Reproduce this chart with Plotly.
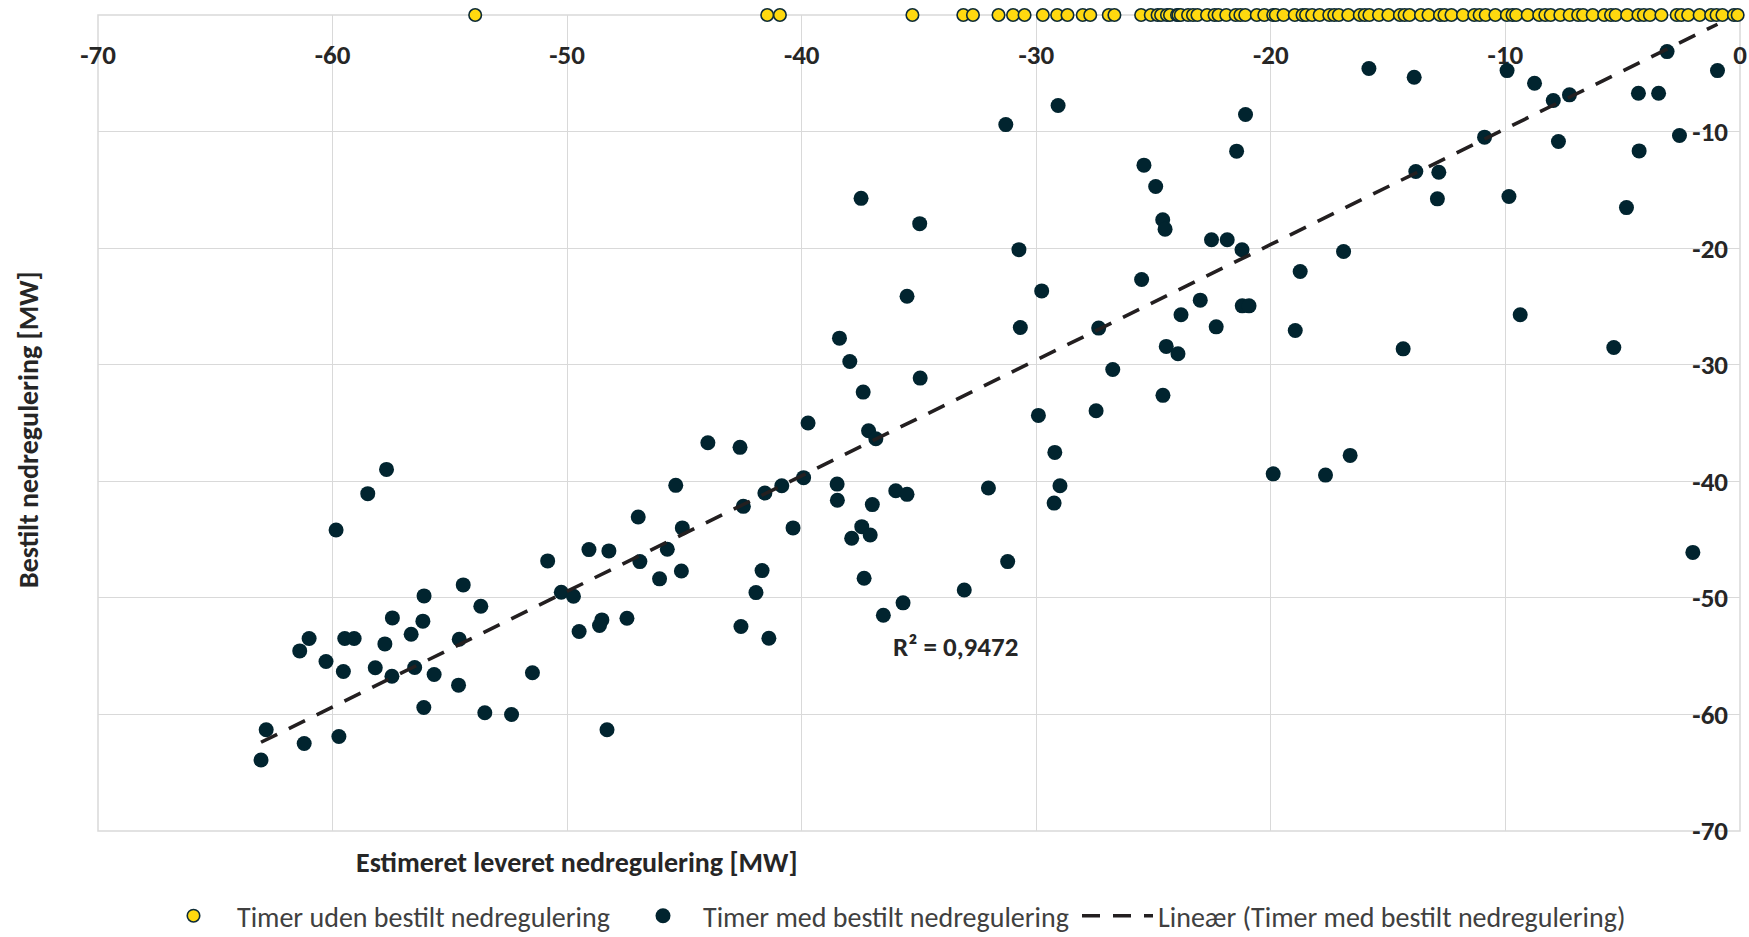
import plotly.graph_objects as go

# ---------------- data ----------------
# Hours without ordered down-regulation (all at y = 0)
uden_x = [-53.92, -41.47, -40.93, -35.28, -33.11, -32.70, -31.61, -30.99, -30.50,
          -29.72, -29.11, -28.67, -28.02, -27.70, -26.91, -26.67, -25.53, -25.12,
          -24.83, -24.68, -24.43, -24.30, -24.0, -23.94, -23.84, -23.53, -23.32,
          -23.13, -22.72, -22.4, -22.23, -21.90, -21.50, -21.3, -21.09, -20.60,
          -20.28, -19.9, -19.79, -19.46, -18.98, -18.65, -18.5, -18.24, -17.92,
          -17.51, -17.3, -17.10, -16.70, -16.21, -16.0, -15.80, -15.39, -14.99,
          -14.50, -14.3, -14.09, -13.60, -13.28, -12.79, -12.6, -12.30, -11.81,
          -11.33, -11.1, -10.84, -10.43, -9.94, -9.7, -9.54, -9.05, -8.56, -8.3,
          -8.07, -7.66, -7.26, -6.9, -6.69, -6.28, -5.79, -5.5, -5.30, -4.81,
          -4.33, -4.1, -3.84, -3.35, -2.70, -2.5, -2.21, -1.72, -1.23, -1.0,
          -0.75, -0.26, -0.1]
uden_y = [0.0] * len(uden_x)

# Hours with ordered down-regulation: (estimated delivered, ordered)
med_x = [
    -57.70, -58.50, -59.85, -50.83, -50.25, -54.43, -56.10, -53.68, -57.45, -56.15,
    -61.00, -59.48, -59.08, -56.65, -57.77, -54.60, -61.40, -60.28, -59.54, -58.18,
    -57.47, -56.50, -55.67, -51.48, -54.63, -56.11, -53.51, -52.37, -62.83, -61.21,
    -59.73, -63.05,
    -39.73, -44.00, -42.63, -45.37, -40.85, -39.92, -41.57, -42.49, -46.97, -45.09,
    -40.37, -49.07, -48.22, -45.73, -46.90, -45.13, -41.69, -46.06, -49.73, -41.95,
    -48.52, -48.62, -47.45, -49.49, -42.59, -41.40, -48.30,
    -37.47, -34.97, -30.74, -29.77, -35.51, -30.68, -38.39, -37.95, -34.95, -37.38,
    -29.91, -37.15, -36.84, -38.49, -38.48, -36.99, -35.99, -35.51, -32.04, -37.44,
    -37.87, -37.08, -31.22, -37.34, -33.07, -35.68, -36.52, -31.30,
    -29.07, -21.08, -21.46, -25.41, -24.91, -24.61, -24.51, -22.53, -21.86, -21.23,
    -25.51, -23.01, -23.83, -21.22, -20.93, -22.33, -27.34, -24.46, -23.96, -26.74,
    -24.60, -27.45, -29.21, -28.99, -29.24,
    -15.82, -13.89, -10.89, -13.82, -12.84, -12.90, -16.90, -18.75, -18.96, -14.36,
    -19.90, -17.67, -16.62,
    -8.76, -7.96, -7.27, -4.33, -3.47, -7.74, -2.58, -4.30, -9.85, -4.84,
    -9.37, -5.38, -9.93, -3.11, -0.96, -2.01]
med_y = [
    -38.98, -41.06, -44.18, -46.83, -49.52, -48.89, -49.83, -50.72, -51.72, -52.00,
    -53.49, -53.49, -53.49, -53.12, -53.95, -53.55, -54.55, -55.46, -56.32, -56.00,
    -56.72, -55.97, -56.57, -56.43, -57.49, -59.40, -59.86, -60.00, -61.32, -62.49,
    -61.89, -63.91,
    -35.00, -36.69, -37.09, -40.35, -40.38, -39.69, -41.00, -42.15, -43.06, -44.00,
    -44.00, -45.86, -45.97, -45.83, -46.89, -47.69, -47.66, -48.37, -49.86, -49.55,
    -51.89, -52.37, -51.75, -52.89, -52.46, -53.46, -61.31,
    -15.73, -17.90, -20.13, -23.67, -24.13, -26.81, -27.72, -29.72, -31.15, -32.35,
    -34.35, -35.67, -36.35, -40.24, -41.63, -42.00, -40.81, -41.12, -40.58, -43.89,
    -44.89, -44.61, -46.89, -48.32, -49.32, -50.43, -51.49, -9.40,
    -7.76, -8.54, -11.68, -12.88, -14.71, -17.57, -18.37, -19.28, -19.28, -20.14,
    -22.69, -24.46, -25.72, -24.95, -24.95, -26.75, -26.86, -28.43, -29.06, -30.41,
    -32.63, -33.95, -37.52, -40.38, -41.87,
    -4.59, -5.34, -10.48, -13.43, -13.49, -15.77, -20.29, -22.00, -27.06, -28.64,
    -39.36, -39.47, -37.78,
    -5.85, -7.34, -6.85, -6.71, -6.71, -10.85, -10.34, -11.66, -15.57, -16.52,
    -25.72, -28.52, -4.77, -3.14, -4.77, -46.10]

# Linear trendline as drawn in the picture
trend_slope = 0.992
trend_intercept = 0.16
trend_x = [min(med_x), max(med_x)]
trend_y = [trend_slope * v + trend_intercept for v in trend_x]
r2_label = "R² = 0,9472"

tick_vals_x = [-70, -60, -50, -40, -30, -20, -10, 0]
tick_text_x = ["-70", "-60", "-50", "-40", "-30", "-20", "-10", "0"]
tick_vals_y = [-70, -60, -50, -40, -30, -20, -10]
tick_text_y = ["-70", "-60", "-50", "-40", "-30", "-20", "-10"]

x_title = "Estimeret leveret nedregulering [MW]"
y_title = "Bestilt nedregulering [MW]"
names = ["Timer uden bestilt nedregulering",
         "Timer med bestilt nedregulering",
         "Lineær (Timer med bestilt nedregulering)"]

# ---------------- figure ----------------
FONT = "Calibri, Carlito, Lato, sans-serif"
DARK = "#01242f"
GOLD = "#ffd90f"
GRID = "#d9d9d9"
TXT = "#262626"

W, H = 1749, 937
ML, MR, MT, MB = 98, 9, 15, 106
pw = W - ML - MR
ph = H - MT - MB

def px_x(p):
    return (p - ML) / pw

def px_y(p):
    return (H - MB - p) / ph

fig = go.Figure()
fig.add_trace(go.Scatter(
    x=uden_x, y=uden_y, mode="markers", name=names[0], legend="legend",
    marker=dict(size=12.5, color=GOLD, line=dict(color="#0d2b36", width=1.6)),
    cliponaxis=False))
fig.add_trace(go.Scatter(
    x=med_x, y=med_y, mode="markers", name=names[1], legend="legend2",
    marker=dict(size=15, color=DARK, line=dict(width=0)),
    cliponaxis=False))
fig.add_trace(go.Scatter(
    x=trend_x, y=trend_y, mode="lines", name=names[2], legend="legend3",
    line=dict(color="#231f20", width=3.6, dash="18px,13px")))

fig.add_annotation(x=-36.2, y=-54.2, xref="x", yref="y", text=r2_label,
                   showarrow=False, xanchor="left", yanchor="middle",
                   font=dict(family=FONT, size=27, color=TXT, weight="bold"))
fig.add_annotation(x=px_x(577), y=px_y(862), xref="paper", yref="paper",
                   text=x_title, showarrow=False, xanchor="center", yanchor="middle",
                   font=dict(family=FONT, size=28, color=TXT, weight="bold"))
fig.add_annotation(x=px_x(28), y=px_y(430), xref="paper", yref="paper",
                   text=y_title, showarrow=False, textangle=-90,
                   xanchor="center", yanchor="middle",
                   font=dict(family=FONT, size=28, color=TXT, weight="bold"))

# plot-area frame
fig.add_shape(type="rect", xref="paper", yref="paper", x0=0, x1=1, y0=0, y1=1,
              line=dict(color=GRID, width=1.5), layer="below")

leg_common = dict(orientation="h", yanchor="middle", xanchor="left",
                  font=dict(family=FONT, size=28, color="#404040"),
                  bgcolor="rgba(0,0,0,0)", borderwidth=0)
LEG_Y = px_y(916)

fig.update_layout(
    width=W, height=H,
    margin=dict(l=ML, r=MR, t=MT, b=MB, pad=0, autoexpand=False),
    paper_bgcolor="white", plot_bgcolor="white",
    font=dict(family=FONT, size=28, color=TXT),
    showlegend=True,
    legend=dict(x=px_x(150), y=LEG_Y, itemwidth=77, **leg_common),
    legend2=dict(x=px_x(623), y=LEG_Y, itemwidth=70, **leg_common),
    legend3=dict(x=px_x(1077), y=LEG_Y, itemwidth=71, **leg_common),
    xaxis=dict(range=[-70, 0], side="bottom", anchor="free", position=px_y(36),
               tickvals=tick_vals_x, ticktext=tick_text_x, ticks="",
               tickfont=dict(family=FONT, size=27, color=TXT, weight="bold"),
               showgrid=True, gridcolor=GRID, gridwidth=1.3,
               showline=False, zeroline=False, layer="below traces",
               ticklabelstandoff=0),
    yaxis=dict(range=[-70, 0], side="left", anchor="free", position=px_x(1728),
               tickvals=tick_vals_y, ticktext=tick_text_y, ticks="",
               tickfont=dict(family=FONT, size=27, color=TXT, weight="bold"),
               showgrid=True, gridcolor=GRID, gridwidth=1.3,
               showline=False, zeroline=False, layer="below traces",
               ticklabelstandoff=0),
)

fig.write_html("out.html", config={"displayModeBar": False},
               post_script="document.body.style.margin='0';document.body.style.overflow='hidden';")
